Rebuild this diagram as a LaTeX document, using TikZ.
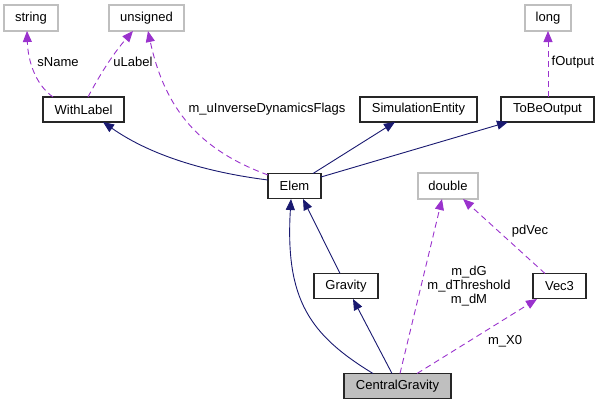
\documentclass[tikz,border=0pt]{standalone}
\usepackage{fontspec}
\setmainfont{Liberation Sans}
\usetikzlibrary{arrows.meta}
\definecolor{navy}{HTML}{191970}
\definecolor{orchid}{HTML}{9A32CD}
\definecolor{gbord}{HTML}{BFBFBF}
\begin{document}
\begin{tikzpicture}[x=1pt,y=-1pt,
  font=\fontsize{13}{15.5}\selectfont,
  cls/.style={draw=black!85,line width=1.1pt,minimum height=25pt,inner sep=0pt,fill=white},
  ext/.style={draw=gbord,line width=1.1pt,minimum height=26pt,inner sep=0pt,fill=white},
  inh/.style={navy,line width=0.9pt,-{Triangle[length=11pt,width=9pt]}},
  use/.style={orchid,line width=0.9pt,dash pattern=on 6pt off 4pt,-{Triangle[length=11pt,width=9pt]}},
  lbl/.style={inner sep=0pt,align=center}]
\useasboundingbox (0,0) rectangle (601,405);
% nodes
\node[ext,minimum width=54pt] (string) at (31,18) {string};
\node[ext,minimum width=75pt] (unsigned) at (146.5,18) {unsigned};
\node[ext,minimum width=46pt] (long) at (548,18) {long};
\node[cls,minimum width=81pt] (withlabel) at (83.5,109.5) {WithLabel};
\node[cls,minimum width=117pt] (simentity) at (418.5,109.5) {SimulationEntity};
\node[cls,minimum width=93pt] (tobeoutput) at (547.5,109.5) {ToBeOutput};
\node[cls,minimum width=53pt] (elem) at (294.5,186) {Elem};
\node[ext,minimum width=60pt] (double) at (448,186) {double};
\node[cls,minimum width=64pt] (gravity) at (346,286) {Gravity};
\node[cls,minimum width=53pt] (vec3) at (559.5,286) {Vec3};
\node[cls,minimum width=107pt,fill=gbord] (central) at (397.5,386) {CentralGravity};
% coordinates on box borders
\coordinate (e1) at (268,180);
\coordinate (e2) at (268,175);
\coordinate (e3) at (313,173.5);
\coordinate (e4) at (321,177);
\coordinate (eb1) at (291,199);
\coordinate (eb2) at (303,199);
\coordinate (wl1) at (53,97);
\coordinate (wl2) at (88,97);
\coordinate (wlb) at (103,122);
\coordinate (st) at (27,31);
\coordinate (un1) at (133,31);
\coordinate (un2) at (148,31);
\coordinate (seb) at (395,122);
\coordinate (tbb) at (508,122);
\coordinate (tbt) at (548,97);
\coordinate (lb) at (548,31);
\coordinate (gt) at (340,273.5);
\coordinate (gb) at (353,299);
\coordinate (c1) at (373,373.5);
\coordinate (c2) at (392,373.5);
\coordinate (c3) at (400,373.5);
\coordinate (c4) at (417,373.5);
\coordinate (db1) at (442,199);
\coordinate (db2) at (463,199);
\coordinate (vt) at (545,273.5);
\coordinate (vb) at (537,299);
% inheritance edges
\draw[inh] (e1) .. controls (205,172) and (150,155) .. (wlb);
\draw[inh] (e3) -- (seb);
\draw[inh] (e4) -- (tbb);
\draw[inh] (gt) -- (eb2);
\draw[inh] (c2) -- (gb);
\draw[inh] (c1) .. controls (310,335) and (285,300) .. (eb1);
% usage edges
\draw[use] (wl1) .. controls (36,85) and (28,62) .. (st);
\draw[use] (wl2) .. controls (98,78) and (112,55) .. (un1);
\draw[use] (e2) .. controls (200,150) and (165,110) .. (un2);
\draw[use] (tbt) -- (lb);
\draw[use] (c3) -- (db1);
\draw[use] (c4) -- (vb);
\draw[use] (vt) -- (db2);
% labels
\node[lbl] (lsname) at (58,62) {sName};
\node[lbl] (lulabel) at (133,62) {uLabel};
\node[lbl] (lflags) at (267,109) {m\_uInverseDynamicsFlags};
\node[lbl] (lfout) at (573,62) {fOutput};
\node[lbl] (ldg) at (469,286) {m\_dG\\[-1.5pt]m\_dThreshold\\[-1.5pt]m\_dM};
\node[lbl] (lx0) at (505,341) {m\_X0};
\node[lbl] (lpd) at (530,231) {pdVec};
\end{tikzpicture}
\end{document}
